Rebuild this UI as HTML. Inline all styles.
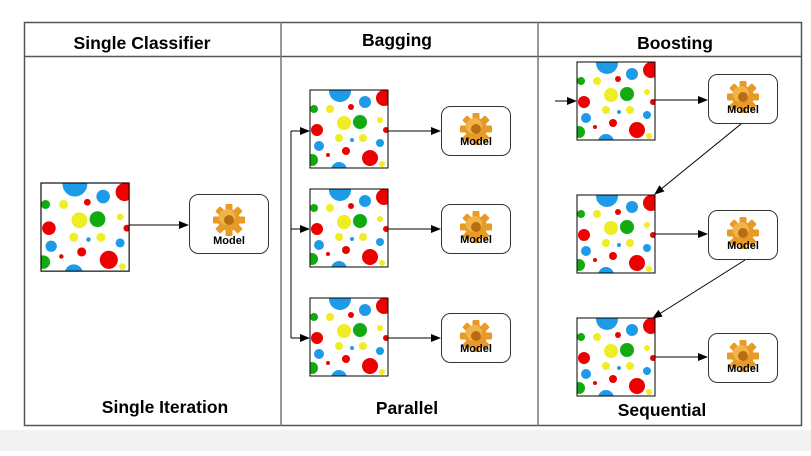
<!DOCTYPE html>
<html><head><style>
body{margin:0;width:811px;height:451px;background:#fff;overflow:hidden;font-family:"Liberation Sans",sans-serif}
</style></head><body>
<svg width="811" height="451" viewBox="0 0 811 451" xmlns="http://www.w3.org/2000/svg">
<defs>
<clipPath id="c"><rect x="0" y="0" width="78" height="78"/></clipPath>
<g id="dots">
<rect x="0" y="0" width="78" height="78" fill="#fff"/>
<g clip-path="url(#c)">
<circle cx="30" cy="1" r="11" fill="#1e9be6"/>
<circle cx="74" cy="8" r="8" fill="#e00"/>
<circle cx="55" cy="12" r="6" fill="#1e9be6"/>
<circle cx="4" cy="19" r="4" fill="#1a1"/>
<circle cx="20" cy="19" r="4" fill="#ee2"/>
<circle cx="41" cy="17" r="3" fill="#e00"/>
<circle cx="34" cy="33" r="7" fill="#ee2"/>
<circle cx="50" cy="32" r="7" fill="#1a1"/>
<circle cx="70" cy="30" r="3" fill="#ee2"/>
<circle cx="7" cy="40" r="6" fill="#e00"/>
<circle cx="29" cy="48" r="4" fill="#ee2"/>
<circle cx="42" cy="50" r="2" fill="#1e9be6"/>
<circle cx="53" cy="48" r="4" fill="#ee2"/>
<circle cx="76" cy="40" r="3" fill="#e00"/>
<circle cx="9" cy="56" r="5" fill="#1e9be6"/>
<circle cx="36" cy="61" r="4" fill="#e00"/>
<circle cx="70" cy="53" r="4" fill="#1e9be6"/>
<circle cx="18" cy="65" r="2" fill="#e00"/>
<circle cx="60" cy="68" r="8" fill="#e00"/>
<circle cx="2" cy="70" r="6" fill="#1a1"/>
<circle cx="29" cy="80" r="8" fill="#1e9be6"/>
<circle cx="72" cy="74" r="3" fill="#ee2"/>
</g>
<rect x="0" y="0" width="78" height="78" fill="none" stroke="#000" stroke-width="1"/>
</g>
<g id="gear">
<circle cx="0" cy="0" r="11" fill="#e89a26"/>
<g fill="#e89a26">
<rect x="-3.5" y="-16" width="7" height="32" rx="1"/>
<rect x="-3.5" y="-16" width="7" height="32" rx="1" transform="rotate(45)"/>
<rect x="-3.5" y="-16" width="7" height="32" rx="1" transform="rotate(90)"/>
<rect x="-3.5" y="-16" width="7" height="32" rx="1" transform="rotate(135)"/>
</g>
<circle cx="-2" cy="-3" r="8" fill="#f8c660" opacity="0.6"/>
<circle cx="0" cy="0" r="5" fill="#b86e10"/>
</g>
<marker id="a" markerWidth="10" markerHeight="8" refX="9" refY="4" orient="auto" markerUnits="userSpaceOnUse"><path d="M0,0 L10,4 L0,8 z" fill="#000"/></marker>
</defs>
<rect x="0" y="430" width="811" height="21" fill="#f2f2f2"/>
<rect x="24.5" y="22.5" width="777" height="403" fill="none" stroke="#555" stroke-width="1.5"/>
<line x1="24" y1="56.5" x2="802" y2="56.5" stroke="#555" stroke-width="1.5"/>
<line x1="281" y1="22" x2="281" y2="426" stroke="#777" stroke-width="1.5"/>
<line x1="538" y1="22" x2="538" y2="426" stroke="#777" stroke-width="1.5"/>
<g font-weight="bold" font-size="17.5" text-anchor="middle" fill="#000">
<text x="142" y="49" textLength="137" lengthAdjust="spacingAndGlyphs">Single Classifier</text>
<text x="397" y="46">Bagging</text>
<text x="675" y="49">Boosting</text>
<text x="165" y="413">Single Iteration</text>
<text x="407" y="414">Parallel</text>
<text x="662" y="416">Sequential</text>
</g>
<use href="#dots" transform="translate(41,183) scale(1.13)"/>
<use href="#dots" transform="translate(310,90)"/>
<use href="#dots" transform="translate(310,189)"/>
<use href="#dots" transform="translate(310,298)"/>
<use href="#dots" transform="translate(577,62)"/>
<use href="#dots" transform="translate(577,195)"/>
<use href="#dots" transform="translate(577,318)"/>
<g fill="#fff" stroke="#333" stroke-width="1">
<rect x="189.5" y="194.5" width="79" height="59" rx="9"/>
<rect x="441.5" y="106.5" width="69" height="49" rx="9"/>
<rect x="441.5" y="204.5" width="69" height="49" rx="9"/>
<rect x="441.5" y="313.5" width="69" height="49" rx="9"/>
<rect x="708.5" y="74.5" width="69" height="49" rx="9"/>
<rect x="708.5" y="210.5" width="69" height="49" rx="9"/>
<rect x="708.5" y="333.5" width="69" height="49" rx="9"/>
</g>
<use href="#gear" transform="translate(229,220)"/>
<use href="#gear" transform="translate(476,129)"/>
<use href="#gear" transform="translate(476,227)"/>
<use href="#gear" transform="translate(476,336)"/>
<use href="#gear" transform="translate(743,97)"/>
<use href="#gear" transform="translate(743,233)"/>
<use href="#gear" transform="translate(743,356)"/>
<g font-weight="bold" font-size="11" text-anchor="middle" fill="#000">
<text x="229" y="244">Model</text>
<text x="476" y="145">Model</text>
<text x="476" y="243">Model</text>
<text x="476" y="352">Model</text>
<text x="743" y="113">Model</text>
<text x="743" y="249">Model</text>
<text x="743" y="372">Model</text>
</g>
<g stroke="#000" stroke-width="1" fill="none">
<line x1="129" y1="225" x2="188" y2="225" marker-end="url(#a)"/>
<line x1="388" y1="131" x2="440" y2="131" marker-end="url(#a)"/>
<line x1="388" y1="229" x2="440" y2="229" marker-end="url(#a)"/>
<line x1="388" y1="338" x2="440" y2="338" marker-end="url(#a)"/>
<path d="M291,131 L291,338"/>
<line x1="291" y1="131" x2="309" y2="131" marker-end="url(#a)"/>
<line x1="291" y1="229" x2="309" y2="229" marker-end="url(#a)"/>
<line x1="291" y1="338" x2="309" y2="338" marker-end="url(#a)"/>
<line x1="655" y1="100" x2="707" y2="100" marker-end="url(#a)"/>
<line x1="655" y1="234" x2="707" y2="234" marker-end="url(#a)"/>
<line x1="655" y1="357" x2="707" y2="357" marker-end="url(#a)"/>
<line x1="555" y1="101" x2="576" y2="101" marker-end="url(#a)"/>
<line x1="741" y1="124" x2="655" y2="194" marker-end="url(#a)"/>
<line x1="745" y1="260" x2="653" y2="318" marker-end="url(#a)"/>
</g>
</svg>
</body></html>
